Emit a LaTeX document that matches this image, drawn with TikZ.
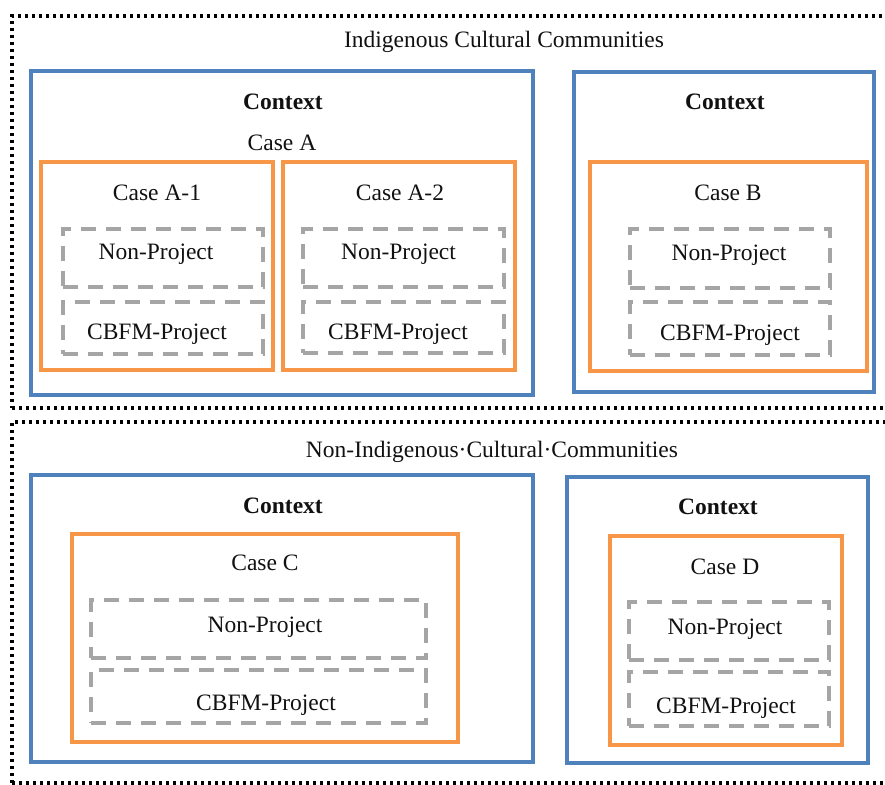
\documentclass[tikz,border=0pt]{standalone}
\usepackage{fontspec}
\setmainfont{Liberation Serif}
\usetikzlibrary{fit}
\definecolor{ctxblue}{HTML}{4F81BD}
\definecolor{caseorange}{HTML}{F79646}
\definecolor{grpgray}{HTML}{A5A5A5}
\definecolor{ink}{HTML}{111111}
\tikzset{
  boxbase/.style={rectangle, inner sep=0pt},
  commbox/.style={boxbase, draw=black, line width=3.2pt, dash pattern=on 3.4pt off 3.6pt},
  ctxbox/.style={boxbase, draw=ctxblue, line width=3.4pt},
  casebox/.style={boxbase, draw=caseorange, line width=3.6pt},
  grpbox/.style={boxbase, draw=grpgray, line width=3.8pt, dash pattern=on 15pt off 10pt},
  lbl/.style={text=ink, font=\fontsize{23.5}{28}\selectfont, inner sep=0pt, anchor=center},
  ctxlbl/.style={lbl, font=\fontsize{23.5}{28}\selectfont\bfseries}
}
\begin{document}
\begin{tikzpicture}[x=1pt, y=-1pt]
\useasboundingbox (0,0) rectangle (885,784);
\clip (0,0) rectangle (885,784);

% community groups (dotted frames run off the right edge)
\node[commbox, fit={(12,16) (895,408)}] (icc) {};
\node[commbox, fit={(12,422) (895,783)}] (nicc) {};
\node[lbl] (iccT) at (504,42) {Indigenous Cultural Communities};
\node[lbl] (niccT) at (492,452) {Non-Indigenous·Cultural·Communities};

% ---------- Case A ----------
\node[ctxbox, fit={(31,71) (533,395)}] (ctxA) {};
\node[ctxlbl] (ctxAT) at (283,102) {Context};
\node[lbl] (caseAT) at (282,143) {Case A};

\node[casebox, fit={(41,162) (273,370)}] (caseA1) {};
\node[lbl] (caseA1T) at (157,193) {Case A-1};
\node[grpbox, fit={(63,229) (263,287)}] (npA1) {};
\node[lbl] (npA1T) at (156,254.5) {Non-Project};
\node[grpbox, fit={(63,302) (263,354)}] (pA1) {};
\node[lbl] (pA1T) at (157,334.5) {CBFM-Project};

\node[casebox, fit={(283,162) (515,370)}] (caseA2) {};
\node[lbl] (caseA2T) at (400,193) {Case A-2};
\node[grpbox, fit={(303,229) (504,287)}] (npA2) {};
\node[lbl] (npA2T) at (398.5,254.5) {Non-Project};
\node[grpbox, fit={(303,302) (504,353)}] (pA2) {};
\node[lbl] (pA2T) at (398,334.5) {CBFM-Project};

% ---------- Case B ----------
\node[ctxbox, fit={(574,72) (874,392)}] (ctxB) {};
\node[ctxlbl] (ctxBT) at (725,102) {Context};
\node[casebox, fit={(590,162) (867,371)}] (caseB) {};
\node[lbl] (caseBT) at (728,193) {Case B};
\node[grpbox, fit={(630,229) (830,288)}] (npB) {};
\node[lbl] (npBT) at (729,255.5) {Non-Project};
\node[grpbox, fit={(630,302) (830,355)}] (pB) {};
\node[lbl] (pBT) at (730,335.5) {CBFM-Project};

% ---------- Case C ----------
\node[ctxbox, fit={(31,475) (533,762)}] (ctxC) {};
\node[ctxlbl] (ctxCT) at (283,506) {Context};
\node[casebox, fit={(72,534) (458,742)}] (caseC) {};
\node[lbl] (caseCT) at (265,563) {Case C};
\node[grpbox, fit={(91,600) (426,658)}] (npC) {};
\node[lbl] (npCT) at (265,627.5) {Non-Project};
\node[grpbox, fit={(91,670) (426,723)}] (pC) {};
\node[lbl] (pCT) at (266,705.5) {CBFM-Project};

% ---------- Case D ----------
\node[ctxbox, fit={(567,477) (868,763)}] (ctxD) {};
\node[ctxlbl] (ctxDT) at (718,507) {Context};
\node[casebox, fit={(610,536) (842,745)}] (caseD) {};
\node[lbl] (caseDT) at (725,567) {Case D};
\node[grpbox, fit={(629,602) (829,660)}] (npD) {};
\node[lbl] (npDT) at (725,629.5) {Non-Project};
\node[grpbox, fit={(629,672) (829,726)}] (pD) {};
\node[lbl] (pDT) at (726,708.5) {CBFM-Project};
\end{tikzpicture}
\end{document}
